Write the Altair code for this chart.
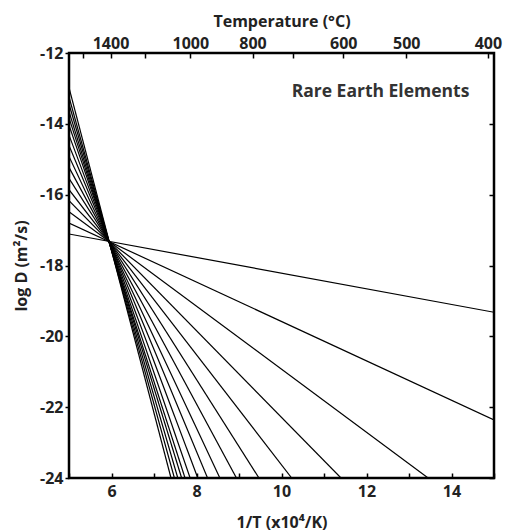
import altair as alt
import pandas as pd

# ---- data ----
line_id = list(range(1, 17))
y_start = [-12.98, -13.24, -13.44, -13.65, -13.83, -14.04, -14.32, -14.61,
           -14.92, -15.23, -15.54, -15.86, -16.17, -16.48, -16.80, -17.11]
x_start = [5.0] * 16
x_end = [7.40, 7.48, 7.56, 7.65, 7.73, 7.85, 8.03, 8.26,
         8.55, 8.94, 9.47, 10.24, 11.40, 13.45, 15.0, 15.0]
y_end = [-24.0] * 14 + [-22.36, -19.32]

bottom_ticks = [5, 6, 7, 8, 9, 10, 11, 12, 13, 14, 15]
left_ticks = [-24, -22, -20, -18, -16, -14, -12]
temp_ticks = [1600, 1400, 1200, 1000, 800, 700, 600, 500, 400]
temp_labels = [1400, 1000, 800, 600, 500, 400]

label_text = ["Rare Earth Elements"]
label_x = [14.42]
label_y = [-13.1]

rows = []
for i, lid in enumerate(line_id):
    rows.append({"id": lid, "x": x_start[i], "y": y_start[i]})
    rows.append({"id": lid, "x": x_end[i], "y": y_end[i]})
df = pd.DataFrame(rows)
df_text = pd.DataFrame({"x": label_x, "y": label_y, "label": label_text})

top_values = [1e4 / (t + 273.15) for t in temp_ticks]

FONT = "Open Sans"
xs = alt.Scale(domain=[5, 15], nice=False, zero=False)
ys = alt.Scale(domain=[-24, -12], nice=False, zero=False)

bottom_axis = alt.Axis(
    orient="bottom", values=bottom_ticks,
    labelExpr="datum.value % 2 == 0 && datum.value > 5 && datum.value < 15 ? datum.label : ''",
    offset=-5, tickSize=5, domain=False, labelPadding=5,
    title="1/T (x10\u2074/K)", titlePadding=15, labelOverlap=False, grid=False,
)
left_axis = alt.Axis(
    orient="left", values=left_ticks, tickSize=4, domain=False, labelPadding=2,
    labelExpr="datum.value < 0 ? '-' + abs(datum.value) : datum.label",
    title="log D (m\u00b2/s)", titlePadding=10, grid=False, labelOverlap=False,
)
lab_arr = "[" + ",".join(str(t) for t in temp_labels) + "]"
top_expr = ("indexof(" + lab_arr + ", round(10000/datum.value - 273.15)) >= 0 ? "
            "format(round(10000/datum.value - 273.15), 'd') : ''")
top_axis = alt.Axis(
    orient="top", values=top_values, labelExpr=top_expr,
    offset=-5, tickSize=5, domain=False, labelPadding=2,
    title="Temperature (\u00b0C)", titlePadding=6, labelOverlap=False, grid=False,
)
right_axis = alt.Axis(
    orient="right", values=left_ticks, offset=-5, tickSize=5, domain=False,
    labels=False, title=None, grid=False,
)

lines = alt.Chart(df).mark_line(color="black", strokeWidth=1.2, clip=True).encode(
    x=alt.X("x:Q", scale=xs, axis=bottom_axis),
    y=alt.Y("y:Q", scale=ys, axis=left_axis),
    detail="id:N",
)
text = alt.Chart(df_text).mark_text(
    align="right", baseline="middle", fontSize=17.5, fontWeight="bold",
    color="#333333", font=FONT,
).encode(
    x=alt.X("x:Q", scale=xs),
    y=alt.Y("y:Q", scale=ys),
    text="label:N",
)
frame_axes = alt.Chart(df).mark_line(opacity=0).encode(
    x=alt.X("x:Q", scale=xs, axis=top_axis),
    y=alt.Y("y:Q", scale=ys, axis=right_axis),
    detail="id:N",
)

chart = alt.layer(alt.layer(lines, text), frame_axes).resolve_scale(
    x="independent", y="independent"
).properties(
    width=425, height=425, background="white",
    padding={"left": 13, "top": 13, "right": 5, "bottom": 1},
).configure_view(
    stroke="black", strokeWidth=2.5,
).configure_axis(
    labelFont=FONT, labelFontSize=16, labelFontWeight="bold", labelColor="#222222",
    titleFont=FONT, titleFontSize=16, titleFontWeight="bold", titleColor="#222222",
    tickColor="black", tickWidth=1.5,
)

chart.save("out.html", embed_options={"renderer": "svg", "actions": False})
